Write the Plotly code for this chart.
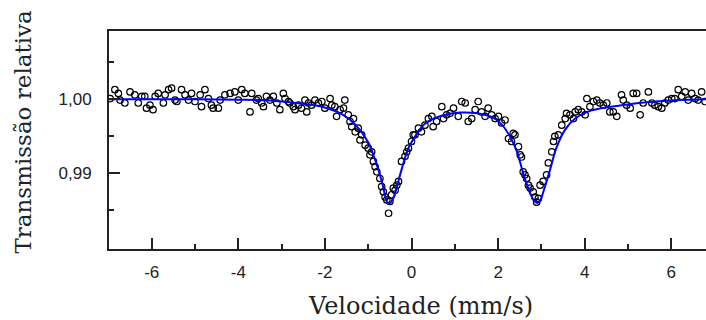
import plotly.graph_objects as go

vel_a = [-6.96,-6.85,-6.77,-6.73,-6.62,-6.50,-6.39,-6.31,-6.23,-6.16,-6.12,-6.04,-5.97,-5.92,-5.85,
         -5.73,-5.69,-5.61,-5.54,-5.46,-5.42,-5.31,-5.23,-5.15,-5.08,-5.00,-4.88,-4.85,-4.77,-4.69,
         -4.62,-4.58,-4.46,-4.42,-4.31,-4.19,-4.08,-4.00,-3.92,-3.85,-3.73,-3.69,-3.58]
tr_a = [1.0001,1.0013,1.0008,0.9999,0.9995,1.0010,1.0006,0.9995,1.0004,1.0004,0.9988,0.9992,0.9986,1.0004,1.0008,
        0.9995,1.0006,1.0013,1.0015,0.9999,0.9997,1.0013,1.0006,0.9999,1.0008,0.9997,1.0006,0.9990,1.0013,1.0001,
        0.9992,0.9988,0.9988,0.9999,1.0006,1.0008,1.0010,0.9999,1.0013,1.0008,0.9983,1.0008,0.9999]

vel_b = [-3.54,-3.46,-3.42,-3.35,-3.27,-3.19,-3.11,-3.04,-2.96,-2.92,-2.84,-2.81,-2.73,-2.69,-2.61,
         -2.54,-2.46,-2.42,-2.38,-2.31,-2.23,-2.15,-2.07,-2.00,-1.88,-1.84,-1.77,-1.73,-1.65,-1.57,
         -1.54,-1.46,-1.42,-1.38,-1.34,-1.30,-1.23,-1.19,-1.15,-1.07,-1.00,-0.96,-0.92,-0.88,-0.84,
         -0.80,-0.73,-0.69,-0.65,-0.61,-0.57,-0.53,-0.50,-0.46,-0.42,-0.38,-0.34,-0.30,-0.23,-0.15,
         -0.11,-0.07,0.00,0.04]
tr_b = [1.0001,0.9995,0.9990,1.0004,0.9999,1.0004,0.9995,0.9986,1.0008,1.0001,0.9997,0.9995,0.9990,0.9986,0.9992,
        0.9988,0.9999,0.9983,0.9995,0.9992,0.9999,0.9995,0.9997,0.9988,1.0001,0.9992,0.9990,0.9977,0.9986,0.9988,
        0.9999,0.9979,0.9970,0.9963,0.9974,0.9956,0.9961,0.9945,0.9952,0.9938,0.9934,0.9925,0.9929,0.9916,0.9909,
        0.9902,0.9893,0.9882,0.9875,0.9868,0.9864,0.9846,0.9862,0.9871,0.9880,0.9877,0.9884,0.9889,0.9916,0.9923,
        0.9929,0.9934,0.9943,0.9952]

vel_c = [0.08,0.16,0.23,0.31,0.39,0.47,0.50,0.58,0.70,0.74,0.81,0.89,0.97,1.08,1.16,
         1.24,1.31,1.39,1.47,1.54,1.62,1.70,1.77,1.85,1.93,2.01,2.08,2.16,2.24,2.31,
         2.35,2.39,2.47,2.51,2.54,2.58,2.62,2.66,2.70,2.74,2.81,2.85,2.89,2.93,2.97,
         3.04,3.12,3.16,3.24,3.28,3.31]
tr_c = [0.9952,0.9961,0.9956,0.9965,0.9974,0.9977,0.9963,0.9970,0.9990,0.9974,0.9979,0.9981,0.9988,0.9977,0.9997,
        0.9995,0.9970,0.9974,0.9986,0.9997,0.9983,0.9977,0.9988,0.9979,0.9974,0.9977,0.9968,0.9972,0.9947,0.9943,
        0.9954,0.9952,0.9936,0.9925,0.9922,0.9902,0.9898,0.9893,0.9884,0.9880,0.9875,0.9868,0.9861,0.9866,0.9884,
        0.9889,0.9898,0.9914,0.9929,0.9943,0.9950]

vel_d = [3.39,3.47,3.55,3.58,3.66,3.74,3.78,3.85,3.93,4.01,4.05,4.12,4.20,4.28,4.35,
         4.43,4.51,4.58,4.66,4.74,4.85,4.89,4.97,5.05,5.12,5.20,5.28,5.35,5.47,5.55,
         5.62,5.70,5.78,5.85,5.93,6.01,6.08,6.16,6.24,6.32,6.39,6.47,6.55,6.62,6.70,6.78]
tr_d = [0.9952,0.9965,0.9974,0.9981,0.9979,0.9974,0.9983,0.9986,0.9983,0.9979,1.0001,0.9990,0.9997,0.9999,0.9995,
        0.9992,0.9995,0.9983,0.9983,0.9977,1.0006,0.9999,0.9992,0.9988,1.0008,1.0008,0.9979,0.9995,1.0010,0.9995,
        0.9992,0.9990,0.9988,0.9995,0.9999,1.0001,1.0001,1.0013,1.0004,1.0010,0.9999,1.0008,1.0001,0.9999,1.0010,0.9997]

# Fitted curve
fit_vel = [-7.0,-5.0,-4.0,-3.5,-3.0,-2.5,-2.07,-1.61,-1.30,-1.0,-0.84,-0.69,-0.60,-0.54,-0.46,-0.38,-0.23,-0.07,
           0.12,0.31,0.66,1.12,1.51,1.89,2.11,2.27,2.43,2.58,2.74,2.84,2.90,2.97,3.04,3.20,3.35,3.55,3.78,
           4.16,4.85,5.62,6.8]
fit_tr = [1.0000,1.0000,0.99995,0.9999,0.9997,0.9994,0.9990,0.9980,0.9966,0.9942,0.9918,0.9890,0.9868,0.9859,
          0.9862,0.9873,0.9905,0.9934,0.9953,0.9967,0.9977,0.9982,0.9981,0.9975,0.9964,0.9950,0.9930,0.9900,
          0.9873,0.9862,0.9860,0.9863,0.9874,0.9905,0.9935,0.9959,0.9974,0.9985,0.9992,0.9997,1.0000]

x_ticks = [-6, -4, -2, 0, 2, 4, 6]
x_tick_text = ["-6", "-4", "-2", "0", "2", "4", "6"]
y_ticks = [0.99, 1.00]
y_tick_text = ["0,99", "1,00"]

velocity = vel_a + vel_b + vel_c + vel_d
transmission = tr_a + tr_b + tr_c + tr_d

fig = go.Figure()
fig.add_trace(go.Scatter(
    x=velocity, y=transmission, mode="markers",
    marker=dict(symbol="circle-open", size=6.5, color="black", line=dict(width=1.2)),
    showlegend=False,
))
fig.add_trace(go.Scatter(
    x=fit_vel, y=fit_tr, mode="lines", line=dict(color="#0000ff", width=2, shape="spline"),
    showlegend=False,
))

tick_font = dict(family="Liberation Sans", size=17, color="#222222")
xtitle_font = dict(family="DejaVu Serif", size=24, color="#222222")
ytitle_font = dict(family="DejaVu Serif", size=23, color="#222222")

fig.update_layout(
    width=706, height=320,
    margin=dict(l=109, r=0, t=31, b=71),
    paper_bgcolor="white", plot_bgcolor="white",
    xaxis=dict(
        range=[-6.986, 6.801], showgrid=False, zeroline=False,
        showline=True, linecolor="#222222", linewidth=2, mirror=True,
        ticks="inside", ticklen=11, tickwidth=2, tickcolor="#222222",
        tickvals=x_ticks, ticktext=x_tick_text, tickfont=tick_font,
        ticklabelstandoff=7,
        minor=dict(tickvals=[-5, -3, -1, 1, 3, 5], ticks="inside", ticklen=5, tickwidth=2, tickcolor="#222222"),
    ),
    yaxis=dict(
        range=[0.97977, 1.00923], showgrid=False, zeroline=False,
        showline=True, linecolor="#222222", linewidth=2, mirror=False,
        ticks="inside", ticklen=11, tickwidth=2, tickcolor="#222222",
        tickvals=y_ticks, ticktext=y_tick_text, tickfont=tick_font,
        ticklabelstandoff=12,
        minor=dict(tickvals=[0.985, 0.995, 1.005], ticks="inside", ticklen=5, tickwidth=2, tickcolor="#222222"),
    ),
    annotations=[
        dict(text="Velocidade (mm/s)", xref="paper", yref="paper", x=0.521, y=-0.261,
             xanchor="center", yanchor="middle", showarrow=False, font=xtitle_font),
        dict(text="Transmissão relativa", xref="paper", yref="paper", x=-0.144, y=0.539,
             xanchor="center", yanchor="middle", showarrow=False, textangle=-90, font=ytitle_font),
    ],
)

fig.write_html("out.html")
